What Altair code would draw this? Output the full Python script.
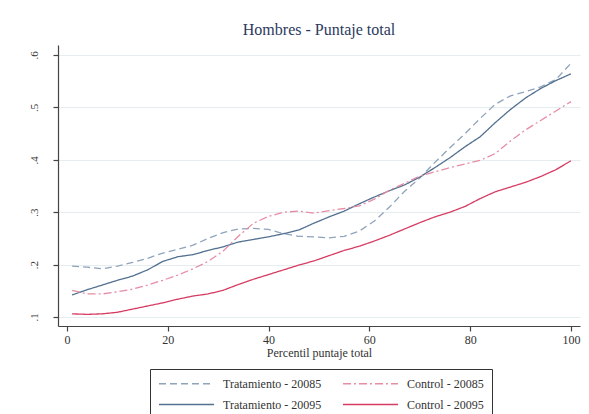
import altair as alt
import pandas as pd

pct = [1, 4, 7, 10, 13, 16, 19, 22, 25, 28, 31, 34, 37, 40, 43, 46, 49, 52, 55, 58,
       61, 64, 67, 70, 73, 76, 79, 82, 85, 88, 91, 94, 97, 100]

trat_20085 = [0.197, 0.195, 0.192, 0.197, 0.204, 0.212, 0.222, 0.229, 0.237, 0.250,
              0.261, 0.268, 0.269, 0.267, 0.259, 0.254, 0.253, 0.251, 0.254, 0.264,
              0.283, 0.310, 0.340, 0.365, 0.395, 0.423, 0.450, 0.479, 0.506, 0.522,
              0.530, 0.539, 0.553, 0.584]
trat_20095 = [0.142, 0.152, 0.161, 0.170, 0.178, 0.190, 0.206, 0.215, 0.219, 0.227,
              0.234, 0.243, 0.248, 0.253, 0.259, 0.266, 0.279, 0.291, 0.302, 0.316,
              0.329, 0.341, 0.352, 0.367, 0.385, 0.404, 0.425, 0.444, 0.471, 0.496,
              0.518, 0.536, 0.551, 0.564]
ctrl_20085 = [0.151, 0.144, 0.144, 0.148, 0.153, 0.161, 0.170, 0.180, 0.192, 0.206,
              0.226, 0.254, 0.279, 0.292, 0.300, 0.302, 0.298, 0.303, 0.307, 0.312,
              0.325, 0.342, 0.355, 0.369, 0.377, 0.385, 0.392, 0.399, 0.412, 0.436,
              0.457, 0.475, 0.493, 0.511]
ctrl_20095 = [0.106, 0.105, 0.106, 0.109, 0.115, 0.121, 0.127, 0.134, 0.140, 0.144,
              0.151, 0.162, 0.172, 0.181, 0.190, 0.199, 0.207, 0.217, 0.227, 0.235,
              0.245, 0.256, 0.268, 0.280, 0.291, 0.300, 0.311, 0.326, 0.339, 0.348,
              0.357, 0.368, 0.381, 0.398]

# order chosen so the 2-column legend reads: T-20085 | C-20085 / T-20095 | C-20095
series_names = ["Tratamiento - 20085", "Tratamiento - 20095",
                "Control - 20085", "Control - 20095"]
series_values = {
    "Tratamiento - 20085": trat_20085,
    "Tratamiento - 20095": trat_20095,
    "Control - 20085": ctrl_20085,
    "Control - 20095": ctrl_20095,
}
colors = ["#8fa3ba", "#52708f", "#e68da4", "#d63c62"]
dashes = [[7, 4], [1, 0], [8, 3, 2, 3], [1, 0]]

rows = []
for name in series_names:
    for p, v in zip(pct, series_values[name]):
        rows.append({"pct": p, "val": v, "serie": name})
df = pd.DataFrame(rows)

FONT = "Liberation Serif"
DARK = "#333333"

legend_kw = dict(title=None, orient="none", legendX=92, legendY=324,
                 columns=2, symbolType="M-1,0H9", symbolSize=121,
                 symbolStrokeWidth=1.3, labelFontSize=12,
                 labelFont=FONT, labelColor=DARK, labelOffset=52,
                 columnPadding=18, rowPadding=8, padding=8,
                 strokeColor="#333333", fillColor="white",
                 labelLimit=200)

chart = alt.Chart(df).mark_line(strokeWidth=1.3, clip=True).encode(
    x=alt.X("pct:Q",
            scale=alt.Scale(domain=[-1.79, 101.8], nice=False, zero=False),
            axis=alt.Axis(values=[0, 20, 40, 60, 80, 100], title="Percentil puntaje total",
                          grid=False, tickSize=5, labelPadding=3, titlePadding=2,
                          labelFontSize=12, titleFontSize=12)),
    y=alt.Y("val:Q",
            scale=alt.Scale(domain=[0.0828, 0.619], nice=False, zero=False),
            axis=alt.Axis(values=[0.1, 0.2, 0.3, 0.4, 0.5, 0.6], title=None,
                          labelExpr="replace(format(datum.value, '.1f'), '0.', '.')",
                          labelAngle=270, labelAlign="center", labelBaseline="bottom",
                          tickSize=5, labelPadding=14, labelFontSize=11,
                          grid=True, gridColor="#e4edf0", gridWidth=1)),
    color=alt.Color("serie:N",
                    scale=alt.Scale(domain=series_names, range=colors),
                    legend=alt.Legend(**legend_kw)),
    strokeDash=alt.StrokeDash("serie:N",
                              scale=alt.Scale(domain=series_names, range=dashes),
                              legend=alt.Legend(**legend_kw)),
    order=alt.Order("pct:Q"),
).properties(
    width=522, height=281,
    title=alt.TitleParams("Hombres - Puntaje total", font=FONT, fontSize=16,
                          fontWeight="normal", color="#2b3a5e", anchor="middle", offset=7),
    autosize=alt.AutoSizeParams(type="none"),
    padding={"left": 50, "top": 37, "right": 1, "bottom": 110},
).configure(
    background="white"
).configure_view(
    stroke=None
).configure_axis(
    labelFont=FONT, titleFont=FONT, labelColor=DARK, titleColor=DARK,
    titleFontWeight="normal", domainColor="#444444", tickColor="#444444",
    domainWidth=1.2, tickWidth=1.2
)

chart.save("out.html", embed_options={"renderer": "svg", "actions": False})
